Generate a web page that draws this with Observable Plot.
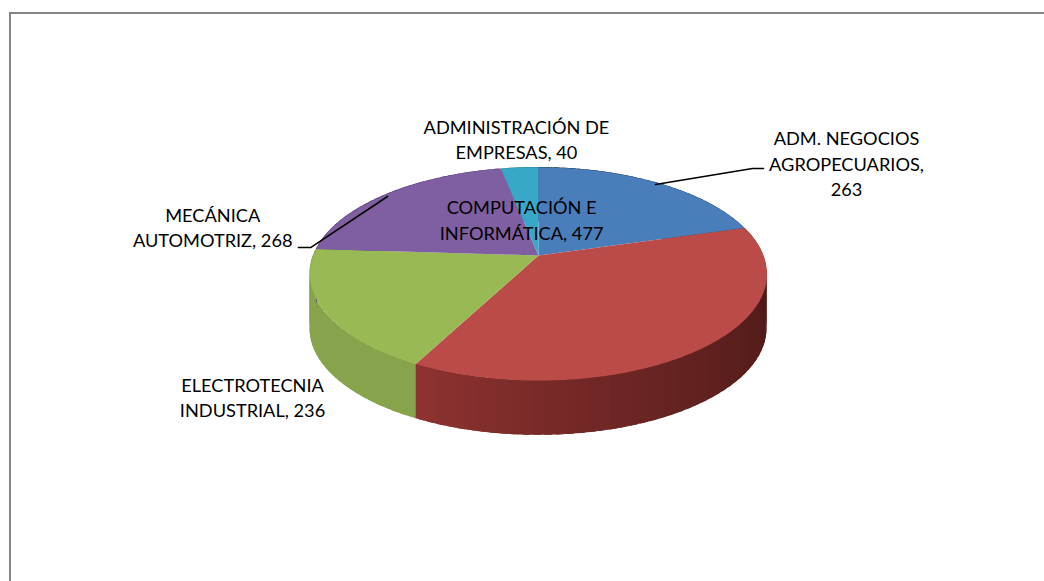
<!DOCTYPE html>
<html><head><meta charset="utf-8">
<script src="https://cdn.jsdelivr.net/npm/d3@7"></script>
<script src="https://cdn.jsdelivr.net/npm/@observablehq/plot@0.6"></script>
<style>html,body{margin:0;background:#fff}svg{display:block}</style>
</head><body><div id="chart"></div>
<script>
const categories = ["ADM. NEGOCIOS AGROPECUARIOS","COMPUTACIÓN E INFORMÁTICA","ELECTROTECNIA INDUSTRIAL","MECÁNICA AUTOMOTRIZ","ADMINISTRACIÓN DE EMPRESAS"];
const values = [263,477,236,268,40];
const topColors = ["#4a7ebb","#bb4b48","#98b954","#7f5fa2","#38a8c8"];
const wallLight = ["#3a6494","#8f3331","#87a44c","#654a82","#2c86a0"];
const wallDark  = ["#2c4b70","#4f1a18","#7f9c46","#4c3862","#206478"];

// Perspective disc: unit-circle coordinates seen with a tilted camera
const K = 0.174, DEPTH = 0.53;
const px = a => Math.sin(a)/(1+K*Math.cos(a));
const py = a => Math.cos(a)/(1+K*Math.cos(a));
const total = d3.sum(values);
let acc = 0;
const slices = values.map((v,i)=>{const a0=acc/total*2*Math.PI; acc+=v; return {i,a0,a1:acc/total*2*Math.PI}});
const wedge = [];
for (const s of slices){
  wedge.push({s:s.i,x:0,y:0});
  const n = Math.max(4,Math.ceil((s.a1-s.a0)*60));
  for(let k=0;k<=n;k++){const a=s.a0+(s.a1-s.a0)*k/n; wedge.push({s:s.i,x:px(a),y:py(a)});}
}
// Side wall: strips along the near rim, colour follows the angle (lit from lower left)
const wall = [];
const RAD = Math.PI/180;
for (const s of slices){
  const n = Math.ceil((s.a1-s.a0)*24);
  for(let k=n-1;k>=0;k--){
    const a0=s.a0+(s.a1-s.a0)*k/n, a1=Math.min(s.a1,s.a0+(s.a1-s.a0)*(k+1)/n+0.03);
    const id=s.i+"-"+k;
    const t=Math.max(0,Math.min(1,((a0+a1)/2-90*RAD)/(117*RAD)));
    const col=d3.interpolateRgb(wallDark[s.i],wallLight[s.i])(Math.pow(t,1.5));
    const steps=6;
    for(let j=0;j<=steps;j++){ const a=a0+(a1-a0)*j/steps; wall.push({id,col,x:px(a),y1:py(a),y2:py(a)-DEPTH}); }
  }
}
const labels = [
 {t:"ADM. NEGOCIOS\nAGROPECUARIOS,\n263",x:1.369,y:0.90},
 {t:"COMPUTACIÓN E\nINFORMÁTICA, 477",x:-0.075,y:0.354},
 {t:"ELECTROTECNIA\nINDUSTRIAL, 236",x:-1.271,y:-1.365},
 {t:"MECÁNICA\nAUTOMOTRIZ, 268",x:-1.448,y:0.281},
 {t:"ADMINISTRACIÓN DE\nEMPRESAS, 40",x:-0.098,y:1.132}
];
const leaders = [
 {id:"a",x:0.52,y:0.687},{id:"a",x:0.951,y:0.842},{id:"a",x:1.0,y:0.842},
 {id:"b",x:-0.671,y:0.571},{id:"b",x:-1.013,y:0.077},{id:"b",x:-1.067,y:0.077}
];
// x: 1 unit = Rx px, y: 1 unit = Ry px, centred on the disc
const W=1044,H=581,cx=538,cy=255,Rx=225,Ry=103.3;
const plot = Plot.plot({
  width:W,height:H,margin:0,
  x:{domain:[-cx/Rx,(W-cx)/Rx],axis:null},
  y:{domain:[-(H-cy)/Ry,cy/Ry],axis:null},
  marks:[
    Plot.areaY(wall,{x:"x",y1:"y1",y2:"y2",z:"id",fill:d=>d.col,curve:"linear"}),
    Plot.line(wedge,{x:"x",y:"y",z:"s",fill:d=>topColors[d.s],stroke:"none",curve:"linear"}),
    Plot.line(leaders,{x:"x",y:"y",z:"id",stroke:"#000",strokeWidth:1.6,curve:"linear"}),
    Plot.text(labels,{x:"x",y:"y",text:"t",fontFamily:"Lato",fontSize:18.2,fill:"#000",lineHeight:1.4,lineAnchor:"middle"})
  ],
  style:{background:"#fff",overflow:"visible"}
});
d3.select(plot).append("path").attr("d","M10,581V13H1044").attr("fill","none").attr("stroke","#868686").attr("stroke-width",2);
document.getElementById("chart").append(plot);
</script></body></html>
